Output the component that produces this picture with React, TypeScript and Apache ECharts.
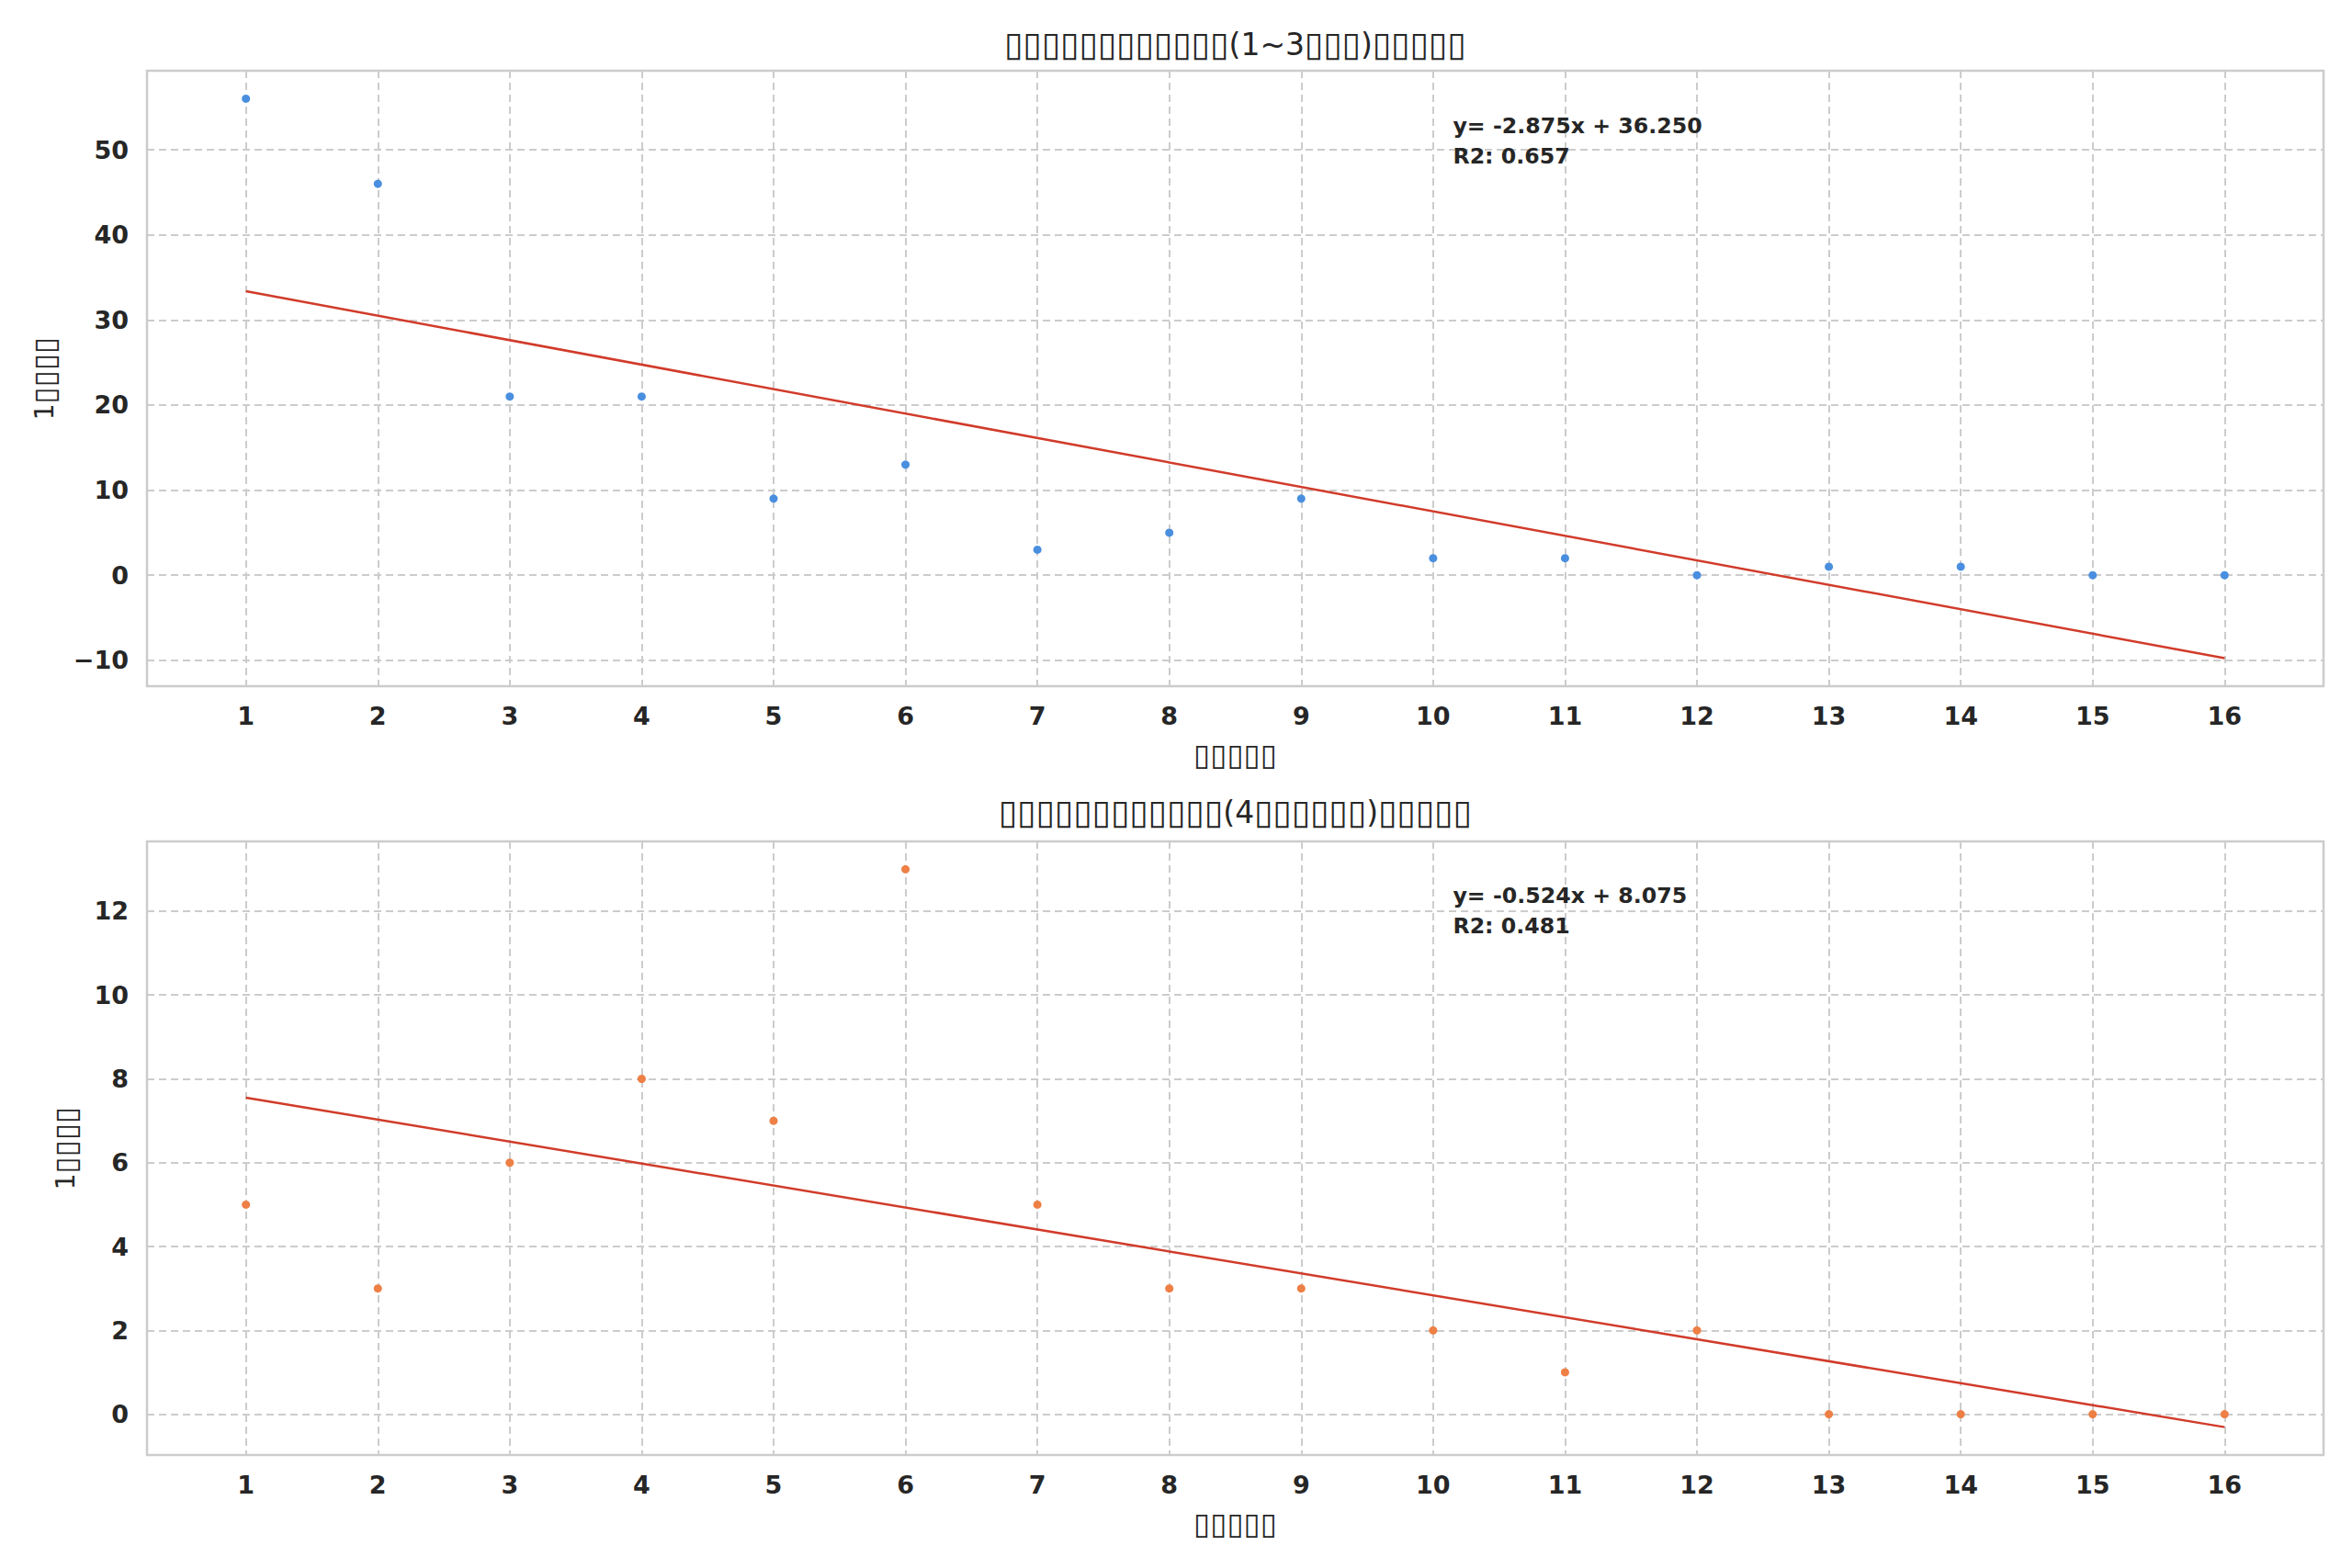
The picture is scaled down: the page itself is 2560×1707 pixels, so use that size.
import React, { useEffect, useRef } from "react";
import * as echarts from "echarts";

// ---- data ----
const periods = [1, 2, 3, 4, 5, 6, 7, 8, 9, 10, 11, 12, 13, 14, 15, 16];
const shortCounts = [56, 46, 21, 21, 9, 13, 3, 5, 9, 2, 2, 0, 1, 1, 0, 0];
const longCounts = [5, 3, 6, 8, 7, 13, 5, 3, 3, 2, 1, 2, 0, 0, 0, 0];
const shortSlope = -2.875;
const shortIntercept = 36.25;
const shortR2 = 0.657;
const longSlope = -0.524;
const longIntercept = 8.075;
const longR2 = 0.481;
const shortYTicks = [-10, 0, 10, 20, 30, 40, 50];
const longYTicks = [0, 2, 4, 6, 8, 10, 12];

// text as it appears in the reference (missing-glyph boxes)
const BOX = "\u25AF";
const boxes = (n: number) => `{b|${BOX.repeat(n)}}`;
const titleShort = boxes(12) + "(1~3" + boxes(3) + ")" + boxes(5);
const titleLong = boxes(12) + "(4" + boxes(6) + ")" + boxes(5);
const yName = "1" + boxes(4);
const xName = boxes(5);

// ---- layout / style ----
const FONT = "DejaVu Sans";
const TEXT = "#262626";
const GRID_LEFT = 160;
const GRID_RIGHT = 31;
const PLOT_W = 2560 - GRID_LEFT - GRID_RIGHT;
const TOP1 = 77;
const H1 = 670;
const TOP2 = 916;
const H2 = 668;
const BLUE = "#4a8fdf";
const ORANGE = "#ee7f45";
const RED = "#d13b2a";

function fitLine(slope: number, intercept: number) {
  const a = periods[0];
  const b = periods[periods.length - 1];
  return [
    [a, slope * a + intercept],
    [b, slope * b + intercept],
  ];
}

function padRange(values: number[]) {
  const lo = Math.min(...values);
  const hi = Math.max(...values);
  const p = (hi - lo) * 0.05;
  return [lo - p, hi + p];
}

function fmt(v: number, d: number) {
  return v.toFixed(d);
}

export default function App() {
  const ref = useRef<HTMLDivElement>(null);
  useEffect(() => {
    if (!ref.current) return;
    const chart = echarts.init(ref.current, null, { renderer: "svg" });

    const line1 = fitLine(shortSlope, shortIntercept);
    const line2 = fitLine(longSlope, longIntercept);
    const xr = padRange(periods);
    const yr1 = padRange([...shortCounts, line1[0][1], line1[1][1]]);
    const yr2 = padRange([...longCounts, line2[0][1], line2[1][1]]);

    const gridLine = { show: true, lineStyle: { color: "#cccccc", width: 2, type: [8, 5] } };
    const nameStyle = {
      fontFamily: FONT,
      fontSize: 28,
      color: TEXT,
      rich: { b: { fontFamily: FONT, fontSize: 33, color: TEXT } },
    };
    const tickLabel = { fontFamily: FONT, fontSize: 27, fontWeight: "bold", color: TEXT };
    const titleStyle = {
      fontFamily: FONT,
      fontSize: 33,
      fontWeight: "normal",
      color: TEXT,
      lineHeight: 40,
      rich: { b: { fontFamily: FONT, fontSize: 37, color: TEXT, lineHeight: 40 } },
    };

    const mkX = (gi: number) => ({
      gridIndex: gi,
      type: "value",
      min: xr[0],
      max: xr[1],
      axisLine: { show: false },
      axisTick: { show: false, customValues: periods },
      axisLabel: { ...tickLabel, customValues: periods, margin: 19 },
      splitLine: gridLine,
      name: xName,
      nameLocation: "middle",
      nameGap: 58,
      nameTextStyle: nameStyle,
    });
    const mkY = (gi: number, r: number[], ticks: number[], gap: number) => ({
      gridIndex: gi,
      type: "value",
      min: r[0],
      max: r[1],
      axisLine: { show: false },
      axisTick: { show: false, customValues: ticks },
      axisLabel: {
        ...tickLabel,
        customValues: ticks,
        margin: 20,
        formatter: (v: number) => (v < 0 ? "\u2212" + Math.abs(v) : String(v)),
      },
      splitLine: gridLine,
      name: yName,
      nameLocation: "middle",
      nameGap: gap,
      nameTextStyle: nameStyle,
    });

    const annStyle = {
      fontFamily: FONT,
      fontSize: 23.7,
      fontWeight: "bold",
      fill: TEXT,
      lineHeight: 33,
      textAlign: "left",
      textVerticalAlign: "top",
    };

    chart.setOption({
      animation: false,
      backgroundColor: "#ffffff",
      title: [
        {
          text: titleShort,
          left: GRID_LEFT + PLOT_W / 2,
          top: 28,
          textAlign: "center",
          padding: 0,
          textStyle: titleStyle,
        },
        {
          text: titleLong,
          left: GRID_LEFT + PLOT_W / 2,
          top: 864,
          textAlign: "center",
          padding: 0,
          textStyle: titleStyle,
        },
      ],
      grid: [
        { left: GRID_LEFT, width: PLOT_W, top: TOP1, height: H1, show: true, borderColor: "#cccccc", borderWidth: 2.5, backgroundColor: "#ffffff" },
        { left: GRID_LEFT, width: PLOT_W, top: TOP2, height: H2, show: true, borderColor: "#cccccc", borderWidth: 2.5, backgroundColor: "#ffffff" },
      ],
      xAxis: [mkX(0), mkX(1)],
      yAxis: [mkY(0, yr1, shortYTicks, 95), mkY(1, yr2, longYTicks, 72)],
      series: [
        {
          type: "scatter",
          xAxisIndex: 0,
          yAxisIndex: 0,
          data: periods.map((p, i) => [p, shortCounts[i]]),
          symbolSize: 9,
          itemStyle: { color: BLUE, opacity: 1 },
          z: 3,
        },
        {
          type: "line",
          xAxisIndex: 0,
          yAxisIndex: 0,
          data: line1,
          showSymbol: false,
          symbol: "none",
          lineStyle: { color: RED, width: 2.5 },
          z: 4,
        },
        {
          type: "scatter",
          xAxisIndex: 1,
          yAxisIndex: 1,
          data: periods.map((p, i) => [p, longCounts[i]]),
          symbolSize: 9,
          itemStyle: { color: ORANGE, opacity: 1 },
          z: 3,
        },
        {
          type: "line",
          xAxisIndex: 1,
          yAxisIndex: 1,
          data: line2,
          showSymbol: false,
          symbol: "none",
          lineStyle: { color: RED, width: 2.5 },
          z: 4,
        },
      ],
      graphic: [
        {
          type: "text",
          x: GRID_LEFT + 0.6 * PLOT_W,
          y: TOP1 + 0.065 * H1,
          style: {
            ...annStyle,
            text: `y= ${fmt(shortSlope, 3)}x + ${fmt(shortIntercept, 3)}\nR2: ${fmt(shortR2, 3)}`,
          },
          z: 10,
        },
        {
          type: "text",
          x: GRID_LEFT + 0.6 * PLOT_W,
          y: TOP2 + 0.064 * H2,
          style: {
            ...annStyle,
            text: `y= ${fmt(longSlope, 3)}x + ${fmt(longIntercept, 3)}\nR2: ${fmt(longR2, 3)}`,
          },
          z: 10,
        },
      ],
    });
    return () => chart.dispose();
  }, []);

  return (
    <div
      ref={ref}
      style={{ position: "fixed", left: 0, top: 0, width: 2560, height: 1707, background: "#fff" }}
    />
  );
}
